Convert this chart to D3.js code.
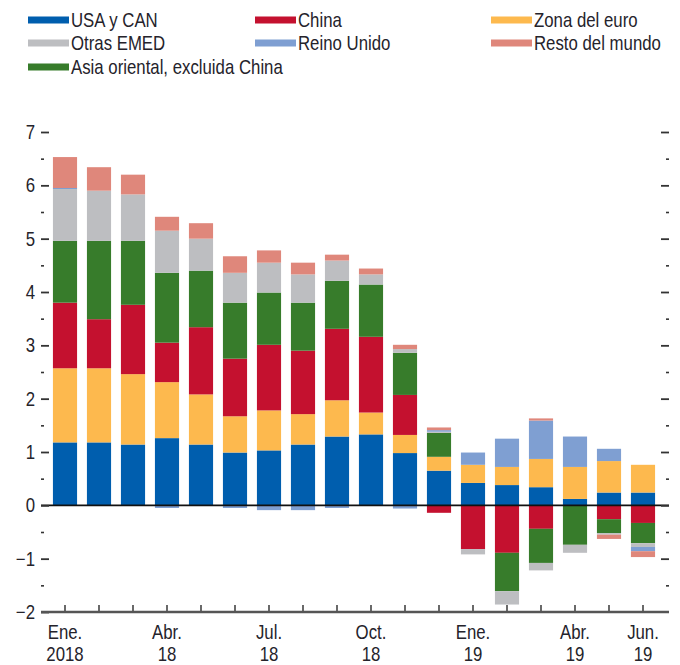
<!DOCTYPE html>
<html>
<head>
<meta charset="utf-8">
<script src="https://cdn.jsdelivr.net/npm/d3@7"></script>
<style>
  body { margin: 0; background: #fff; }
  svg { display: block; font-family: "Liberation Sans", Arial, sans-serif; }
</style>
</head>
<body>
<svg id="chart" width="680" height="665"></svg>
<script>
// Contribuciones por región, ene. 2018 – jun. 2019

const months = ["2018-01","2018-02","2018-03","2018-04","2018-05","2018-06","2018-07","2018-08","2018-09",
                "2018-10","2018-11","2018-12","2019-01","2019-02","2019-03","2019-04","2019-05","2019-06"];

const seriesNames = ["USA y CAN", "Zona del euro", "China", "Asia oriental, excluida China",
                     "Otras EMED", "Reino Unido", "Resto del mundo"];

const usaCan   = [1.18, 1.18, 1.14, 1.26, 1.14, 0.99, 1.03, 1.14, 1.29, 1.33, 0.98, 0.65, 0.42, 0.38, 0.34, 0.12, 0.24, 0.24];
const euro     = [1.39, 1.39, 1.32, 1.05, 0.94, 0.68, 0.75, 0.57, 0.68, 0.41, 0.34, 0.26, 0.34, 0.34, 0.53, 0.60, 0.59, 0.52];
const china    = [1.23, 0.92, 1.30, 0.74, 1.26, 1.08, 1.23, 1.19, 1.34, 1.42, 0.75, -0.14, -0.82, -0.89, -0.44, 0.00, -0.26, -0.33];
const asiaOr   = [1.16, 1.47, 1.20, 1.31, 1.06, 1.05, 0.98, 0.90, 0.90, 0.98, 0.79, 0.45, 0.00, -0.72, -0.64, -0.74, -0.26, -0.38];
const otrasEm  = [0.97, 0.94, 0.87, 0.79, 0.60, 0.56, 0.56, 0.53, 0.38, 0.19, 0.07, 0.02, -0.10, -0.25, -0.14, -0.15, -0.03, -0.07];
const reinoU   = [0.02, 0.00, 0.00, -0.05, 0.00, -0.05, -0.09, -0.09, -0.05, 0.00, -0.06, 0.03, 0.23, 0.53, 0.72, 0.57, 0.23, -0.08];
const resto    = [0.58, 0.44, 0.37, 0.26, 0.29, 0.31, 0.23, 0.22, 0.11, 0.11, 0.08, 0.05, 0.00, 0.00, 0.04, 0.00, -0.08, -0.11];

const colors = ["#005eae", "#fdb94e", "#c4112f", "#377c2b", "#bdbec1", "#7f9fd2", "#df877b"];

const tickLabels = [["2018-01", "Ene.", "2018"], ["2018-04", "Abr.", "18"], ["2018-07", "Jul.", "18"],
                    ["2018-10", "Oct.", "18"], ["2019-01", "Ene.", "19"], ["2019-04", "Abr.", "19"],
                    ["2019-06", "Jun.", "19"]];

// legend layout: [series index, column, row]
const legendOrder = [[0, 0, 0], [2, 1, 0], [1, 2, 0], [4, 0, 1], [5, 1, 1], [6, 2, 1], [3, 0, 2]];

const values = [usaCan, euro, china, asiaOr, otrasEm, reinoU, resto];
const rows = months.map((m, i) => {
    const r = { month: m };
    seriesNames.forEach((s, k) => { r[s] = values[k][i]; });
    return r;
});

const svg = d3.select("#chart");
const textColor = "#25232b";

// narrow look: squeeze each text horizontally around its anchor x
function condense(sel, k = 0.84) {
    sel.each(function () {
        const t = d3.select(this);
        const ax = +t.attr("x") || 0;
        t.attr("transform", `translate(${ax},0) scale(${k},1) translate(${-ax},0)`);
    });
}

const x = d3.scaleBand().domain(months).range([48, 660]).paddingInner(0.29).paddingOuter(0.145);
const y = d3.scaleLinear().domain([-2, 7]).range([612, 132]);

const stack = d3.stack().keys(seriesNames).offset(d3.stackOffsetDiverging);
const stacked = stack(rows);

// Bars
svg.append("g")
    .selectAll("g")
    .data(stacked)
    .join("g")
    .attr("fill", (d, i) => colors[i])
    .selectAll("rect")
    .data(d => d)
    .join("rect")
    .attr("x", d => x(d.data.month))
    .attr("width", x.bandwidth())
    .attr("y", d => y(Math.max(d[0], d[1])))
    .attr("height", d => Math.abs(y(d[0]) - y(d[1])));

// Zero line
svg.append("line")
    .attr("x1", 41).attr("x2", 669)
    .attr("y1", y(0)).attr("y2", y(0))
    .attr("stroke", "#111").attr("stroke-width", 1.6);

// Y axes: left with labels, right ticks only
const majors = d3.range(-2, 8);
const minors = d3.range(-1.5, 7, 1);

const yLeft = svg.append("g")
    .attr("transform", "translate(41,0)")
    .call(d3.axisLeft(y).tickValues(majors).tickSize(-8).tickPadding(6)
        .tickFormat(d => d < 0 ? "\u2212" + Math.abs(d) : d));
yLeft.select(".domain").remove();
yLeft.selectAll(".tick line").attr("stroke", "#333").attr("stroke-width", 1.8);
yLeft.selectAll(".tick text").attr("fill", textColor).attr("font-size", "20px")
    .attr("font-family", "inherit").call(condense, 0.84);

const yLeftMinor = svg.append("g")
    .attr("transform", "translate(41,0)")
    .call(d3.axisLeft(y).tickValues(minors).tickSize(-3).tickFormat(""));
yLeftMinor.select(".domain").remove();
yLeftMinor.selectAll(".tick line").attr("stroke", "#333").attr("stroke-width", 1.6);

const yRight = svg.append("g")
    .attr("transform", "translate(669,0)")
    .call(d3.axisRight(y).tickValues(majors.filter(d => d > -2)).tickSize(-8).tickFormat(""));
yRight.select(".domain").remove();
yRight.selectAll(".tick line").attr("stroke", "#333").attr("stroke-width", 1.8);

const yRightMinor = svg.append("g")
    .attr("transform", "translate(669,0)")
    .call(d3.axisRight(y).tickValues(minors).tickSize(-3).tickFormat(""));
yRightMinor.select(".domain").remove();
yRightMinor.selectAll(".tick line").attr("stroke", "#333").attr("stroke-width", 1.6);

// X axis
const xAxis = svg.append("g")
    .attr("transform", `translate(0,${y(-2)})`)
    .call(d3.axisBottom(x).tickSize(-7).tickFormat(""));
xAxis.select(".domain").remove();
xAxis.selectAll(".tick line").attr("stroke", "#444").attr("stroke-width", 1.6);

svg.append("line")
    .attr("x1", 41).attr("x2", 669)
    .attr("y1", y(-2)).attr("y2", y(-2))
    .attr("stroke", "#555").attr("stroke-width", 2.5);

const xl = svg.append("g")
    .selectAll("g")
    .data(tickLabels)
    .join("g")
    .attr("fill", textColor)
    .attr("font-size", "20px")
    .attr("text-anchor", "middle");
xl.append("text").attr("x", d => x(d[0]) + x.bandwidth() / 2).attr("y", 639).text(d => d[1]).call(condense);
xl.append("text").attr("x", d => x(d[0]) + x.bandwidth() / 2).attr("y", 661).text(d => d[2]).call(condense);

// Legend
const colX = [28, 255, 491];
const rowY = [20, 43, 67];
const leg = svg.append("g")
    .selectAll("g")
    .data(legendOrder)
    .join("g")
    .attr("transform", d => `translate(${colX[d[1]]},${rowY[d[2]]})`);
leg.append("rect")
    .attr("x", 0).attr("y", -3.5)
    .attr("width", 41).attr("height", 7)
    .attr("fill", d => colors[d[0]]);
leg.append("text")
    .attr("x", 43).attr("y", 7)
    .attr("fill", textColor)
    .attr("font-size", "20px")
    .text(d => seriesNames[d[0]])
    .call(condense);
</script>
</body>
</html>
